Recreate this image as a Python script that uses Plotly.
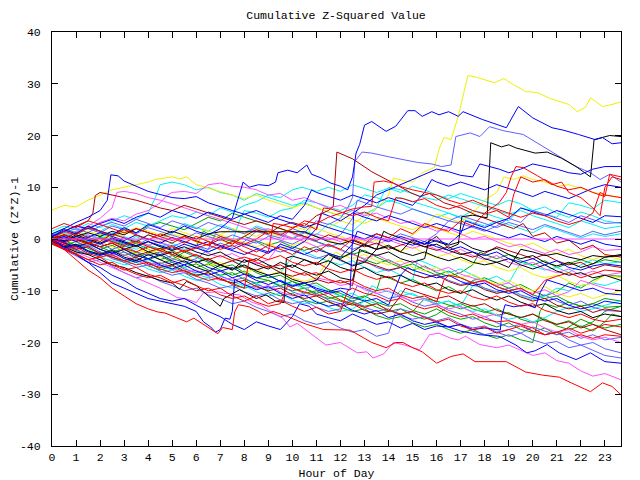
import plotly.graph_objects as go

# ---- colours of the gnuplot-style line palette ----
RED = "#ff0000"
GREEN = "#00a000"
BLUE = "#0000ff"
SLATE = "#6060ff"
MAGENTA = "#ff50ff"
CYAN = "#00f0f0"
YELLOW = "#f0f000"
BLACK = "#000000"
DARKRED = "#b00000"

TITLE = "Cumulative Z-Squared Value"
X_TITLE = "Hour of Day"
Y_TITLE = "Cumulative (Z*Z)-1"
X_TICKS = list(range(0, 24))
Y_TICKS = [-40, -30, -20, -10, 0, 10, 20, 30, 40]

# ---- series: (hour, cumulative value) pairs ----
YELLOW_TOP = [(0,0.5),(0.5,1.5),(1,0.8),(1.5,2),(2,1.2),(2.5,0.5),(3,1.5),(3.5,0.8),(4,0),(4.5,-0.5),(5,1),(5.5,0.3),(6,-0.5),(6.5,0.5),(7,-0.3),(7.5,-1),(8,0.5),(8.5,2),(9,1.2),(9.5,0.5),(10,2.5),(10.5,1.8),(11,3),(11.5,2.2),(12,3.5),(12.5,2.8),(13,4.5),(13.5,6),(13.75,7),(14,8.5),(14.2,11.8),(14.6,11.3),(15,11),(15.4,12.8),(15.9,13.8),(16.1,17.3),(16.3,19.6),(16.6,19.2),(16.9,23.7),(17.3,31.6),(17.7,31.2),(18.1,30.6),(18.4,30.2),(18.8,31),(19.2,29.8),(19.7,28.5),(20.2,28.3),(20.7,27.2),(21.1,26.6),(21.5,26),(21.85,24.6),(22.2,25.5),(22.4,27.3),(22.9,25.6),(23.3,26),(23.67,26.5)]
BLUE_TOP = [(0,0.5),(0.5,1.8),(1,1),(1.5,2.5),(2,1.5),(2.5,0.8),(3,2.2),(3.5,1.2),(4,2.8),(4.5,2),(5,1.2),(5.5,2.5),(6,1.5),(6.5,0.8),(7,2),(7.5,4),(7.8,9),(7.95,11),(8.2,10),(8.6,10.5),(9,10.3),(9.3,11),(9.4,12.8),(9.8,13.3),(10.2,12.8),(10.6,14.3),(10.8,12.5),(11.2,11.8),(11.6,10.8),(12,10.2),(12.3,9.5),(12.5,12),(12.65,16.6),(12.8,18.3),(13,22),(13.3,22.7),(13.9,20.8),(14.3,21.8),(14.8,24.8),(15.1,24.8),(15.4,23.7),(15.8,24.6),(16.1,24),(16.5,24.6),(16.9,23.7),(17.1,24.6),(17.9,23.1),(18.9,21.5),(19.4,25.6),(20,23.4),(20.8,21.5),(21.3,21),(21.9,20.2),(22.6,19.2),(22.9,19.6),(23.3,18.4),(23.67,18.6)]
SLATE_TOP = [(0,0),(0.5,-0.8),(1,0.5),(1.5,-0.3),(2,-1),(2.5,0.2),(3,-0.6),(3.5,-1.3),(4,0),(4.5,-0.8),(5,-1.5),(5.5,-0.5),(6,-1.2),(6.5,-2),(7,-0.8),(7.5,-1.6),(8,-0.5),(8.5,1.5),(9,0.8),(9.5,0.2),(10,2),(10.5,1.2),(11,3.5),(11.5,2.8),(12,4),(12.3,6),(12.5,8),(12.6,15),(12.9,16.8),(13.3,16.6),(14,15.9),(14.7,15.3),(15.2,14.8),(15.8,14.5),(16.2,14),(16.6,14.3),(16.8,19.8),(17.4,20.5),(17.8,19.8),(18.2,21.7),(18.8,20.9),(19.6,20.2),(20.4,18),(21,16.2),(21.8,14),(22.4,12.8),(22.8,11.5),(23.2,12.5),(23.67,11)]
BLACK_TOP = [(0,-0.5),(0.5,-1.5),(1,-1),(1.5,-2.3),(2,-3),(2.5,-2.2),(3,-3.5),(3.5,-4.2),(4,-3),(4.5,-4),(5,-5),(5.5,-4.2),(6,-5.5),(6.5,-6.3),(7,-5),(7.5,-6),(8,-4),(8.5,-5),(9,-5.8),(9.5,-4.5),(10,-5.5),(10.5,-4),(11,-4.8),(11.5,-3),(12,-3.8),(12.5,-2.5),(13,-1),(13.5,-2),(14,-1.2),(14.5,-2.5),(15,0),(15.5,-1),(16,0.5),(16.5,-1.8),(16.9,-1),(17.05,4.3),(17.5,4.6),(18.1,4.1),(18.25,18.6),(18.7,17.8),(19,18.2),(19.3,17.6),(20.1,16.6),(20.6,16.8),(21.2,15.6),(21.8,14),(22.4,12),(22.55,19.2),(22.9,19.6),(23.2,20),(23.67,19.8)]
DARKRED_TOP = [(0,0.8),(0.5,0),(1,1.2),(1.5,0.4),(2,-0.5),(2.5,1),(3,0.2),(3.5,-0.6),(4,0.8),(4.5,0),(5,-0.8),(5.5,0.5),(6,-0.3),(6.5,-1.2),(7,0),(7.5,-1),(8,0.5),(8.5,1.8),(9,1),(9.5,2.5),(10,3.2),(10.5,2.5),(11,4.5),(11.5,5.5),(11.7,6.3),(11.85,16.8),(12.5,15.5),(13.3,13),(14.2,10.8),(14.9,9),(15.3,8.2),(15.7,8.8),(16.3,7),(17,6),(17.7,4.5),(18.5,3.2),(19.2,2),(19.6,3),(20,0.5),(20.5,1.2),(21,-0.8),(21.5,-0.2),(22,-2),(22.5,-1.2),(23,-3),(23.67,-3.5)]
RED_UP = [(0,0),(0.5,1.5),(1,0.8),(1.5,2.2),(2,1.5),(2.5,0.5),(3,1.8),(3.5,0.8),(4,-0.2),(4.5,1),(5,0.2),(5.5,-0.8),(6,0.5),(6.5,-0.5),(7,-1.5),(7.5,-0.5),(8,-1.5),(8.5,-2.5),(9,-1.2),(9.5,-2),(10,-3),(10.5,-1.5),(11,-2.5),(11.5,-1),(12,-2),(12.5,0),(13,-1),(13.5,1),(14,0.2),(14.5,2),(15,1),(15.5,3),(16,2.2),(16.5,1.5),(17,3.5),(17.5,2.5),(18,5),(18.6,7),(18.9,9),(19.1,12),(19.3,14),(19.6,13.8),(20.2,12.2),(20.8,10.5),(21.2,11),(21.5,9),(22,8),(22.5,6),(22.8,4.5),(23,10),(23.3,12),(23.67,11.5)]
RED_LOW = [(0,0),(0.5,-2),(1,-4),(1.5,-6),(2,-7.5),(2.5,-9.5),(3,-11),(3.5,-12.5),(4,-13.5),(4.4,-14.1),(4.7,-14.3),(5.1,-15),(5.6,-16),(5.9,-15.3),(6.6,-17.5),(6.9,-18.3),(7.1,-17.1),(7.5,-17.5),(7.6,-14.1),(7.75,-12.7),(8.2,-13.1),(8.6,-14),(8.8,-14.7),(9.2,-14),(9.8,-15),(10.6,-16.5),(11.3,-17.5),(12.4,-17.6),(13.3,-20),(13.9,-21),(14.3,-20),(14.6,-20),(15,-21),(15.4,-21.8),(16,-24),(16.6,-22.7),(17.1,-22.2),(17.6,-23.7),(18.9,-23.7),(19.7,-25.7),(20.4,-26.3),(21.1,-26.7),(21.6,-27.8),(22.4,-29.5),(22.9,-27.8),(23.3,-28.5),(23.67,-30.1)]
MAGENTA_LOW = [(0,0),(0.5,-1),(1,-2.5),(1.5,-3.5),(2,-4.5),(2.5,-5.5),(3,-6.5),(3.5,-7.5),(4,-8.5),(4.5,-9.5),(5.2,-11.3),(5.6,-11.6),(6,-12.3),(6.3,-10.4),(6.9,-10.2),(7.2,-10.5),(7.8,-10.8),(8.3,-12.2),(8.7,-12.8),(9.1,-14),(9.6,-15.3),(9.9,-17),(10.2,-16.3),(10.7,-18),(11.4,-20.5),(12,-20),(12.7,-22),(13.1,-21.8),(13.35,-23),(13.8,-22.2),(14.2,-20),(14.6,-20.4),(15.3,-21.4),(15.7,-18.5),(16.1,-18.2),(16.6,-19.2),(16.9,-19.5),(17.2,-18.8),(17.8,-20.4),(18.5,-21),(19,-20.5),(19.5,-21.5),(20,-22.5),(20.5,-22),(21,-23.5),(21.5,-24),(22,-25.5),(22.5,-26.5),(23,-26),(23.67,-27.2)]
BLUE_LOW = [(0,0),(0.5,-1.8),(1,-3),(1.5,-4.5),(2,-5.5),(2.5,-7),(3,-8),(3.5,-9.5),(4,-10.5),(4.5,-11.5),(5,-12),(5.5,-11.5),(6,-12.8),(6.5,-14),(7,-15),(7.5,-16.5),(8,-17.5),(8.5,-16),(9,-16.8),(9.5,-17.5),(10,-15),(10.3,-12.5),(10.7,-13),(11,-14.5),(11.5,-15.2),(12,-15.8),(12.5,-14.5),(13,-15.5),(13.5,-16.5),(14,-16),(14.5,-17.2),(15,-16.3),(15.5,-17.5),(16,-16.8),(16.5,-17),(17,-17.8),(17.5,-18.2),(17.8,-18.5),(18.6,-18.8),(19.3,-20.5),(19.75,-22),(20.1,-21.6),(20.6,-20.4),(21.1,-22),(21.8,-23.3),(22.4,-22),(23,-23.7),(23.67,-24)]
BLUE_JUMP = [(0,0),(0.5,-1.5),(1,-3),(1.5,-4.5),(2,-6.5),(2.5,-8.5),(3,-9.5),(3.5,-10.5),(4,-11.5),(4.5,-12),(5,-12.5),(5.5,-13),(6,-14),(6.3,-16),(6.6,-17),(6.8,-18),(7,-17.5),(7.2,-15.3),(7.4,-15.5),(7.5,-14),(7.6,-7.8),(8,-8.8),(8.5,-9.8),(9,-9.2),(9.5,-10.5),(10,-11.5),(10.5,-10.8),(11,-12.2),(11.5,-13),(12,-12.5),(12.5,-13.8),(13,-14.5),(13.5,-13.8),(14,-15.2),(14.5,-14.5),(15,-15.8),(15.5,-16.5),(16,-16),(16.5,-17),(17,-16.5),(17.5,-17.5),(18,-17.2),(18.65,-17.6),(18.7,-15),(18.85,-12.7),(19.2,-13.1),(19.75,-12.7),(20.1,-13.3),(20.3,-10.4),(20.6,-7.9),(21,-8.5),(21.5,-9.2),(22,-10),(22.5,-9.5),(23,-10.5),(23.67,-10.8)]
RED_MID_LOW = [(0,-0.5),(0.5,-2),(1,-2.8),(1.5,-4),(2,-3.5),(2.5,-5),(3,-6),(3.5,-5.5),(4,-6.8),(4.5,-7.5),(5,-8.5),(5.5,-7.8),(6,-9),(6.5,-10),(7,-9.5),(7.5,-11),(8,-12),(8.5,-11),(9,-12.5),(9.5,-11.8),(10,-13),(10.5,-14),(11,-13.2),(11.5,-14.5),(12,-14),(12.3,-10),(12.5,-9.5),(13,-10.5),(13.5,-11),(14,-12),(14.5,-11.5),(15,-12.8),(15.5,-13.5),(16,-13),(16.5,-14.2),(17,-15),(17.5,-14.5),(18,-15.5),(18.5,-16),(19,-15.8),(19.5,-16.5),(20,-17.2),(20.5,-18.5),(21,-18),(21.5,-17.2),(22,-18.2),(22.5,-17.5),(23,-16.5),(23.67,-17)]
MAGENTA_ZERO = [(0,0),(23.67,0)]
GREEN_1 = [(0,0.5),(0.5,-0.5),(1,0.3),(1.5,-1),(2,-2),(2.5,-1.2),(3,-2.5),(3.5,-3.5),(4,-2.8),(4.5,-4),(5,-3.2),(5.5,-4.5),(6,-5.5),(6.5,-4.8),(7,-6),(7.5,-7),(8,-6.2),(8.5,-7.5),(9,-8),(9.5,-9),(10,-8.2),(10.5,-9.5),(11,-10.5),(11.5,-9.8),(12,-11),(12.5,-12),(13,-11.2),(13.5,-10),(13.7,-7),(14,-7.5),(14.5,-8.5),(15,-7.8),(15.5,-9),(16,-10),(16.5,-9.2),(17,-10.5),(17.5,-8),(18,-7.5),(18.5,-8.5),(19,-9.5),(19.5,-8.8),(20,-10),(20.5,-11),(21,-10.2),(21.5,-8.5),(22,-9.5),(22.5,-8),(23,-7),(23.67,-7.2)]
GREEN_2 = [(0,-0.3),(0.5,-1.2),(1,-0.5),(1.5,-1.8),(2,-2.8),(2.5,-2),(3,-3.2),(3.5,-2.5),(4,-3.8),(4.5,-4.8),(5,-4),(5.5,-2.5),(6,-3.5),(6.5,-4.5),(7,-5.5),(7.5,-5),(8,-6.5),(8.5,-7.5),(9,-7),(9.5,-8.2),(10,-9.5),(10.5,-10.5),(11,-10),(11.5,-11.2),(12,-12),(12.5,-12.8),(13,-12),(13.5,-13.2),(14,-14),(14.5,-13.5),(15,-14.8),(15.5,-15.5),(16,-14.6),(16.5,-13),(17,-12.5),(17.5,-13.5),(18,-14.2),(18.5,-13.5),(19,-14.5),(19.5,-15.2),(20,-14.5),(20.5,-15.5),(21,-16.5),(21.5,-15.8),(22,-17),(22.5,-16),(23,-14),(23.67,-13)]
GREEN_3 = [(0,0),(0.5,0.8),(1,0),(1.5,-0.8),(2,0.3),(2.5,-0.5),(3,-1.5),(3.5,-0.8),(4,-2),(4.5,-3),(5,-2.2),(5.5,-3.5),(6,-4.5),(6.5,-3.8),(7,-5),(7.5,-6),(8,-5.2),(8.5,-6.5),(9,-7.5),(9.5,-7),(10,-8.2),(10.5,-9),(11,-8.5),(11.5,-9.8),(12,-10.5),(12.5,-11.5),(13,-11),(13.5,-12.2),(14,-13),(14.5,-12.5),(15,-13.8),(15.5,-14.5),(16,-13.5),(16.5,-14.8),(17,-15.5),(17.5,-15),(18,-16.2),(18.5,-17),(19,-16.2),(19.5,-17.5),(20,-18),(20.5,-17.2),(21,-18.5),(21.5,-17),(22,-15.5),(22.5,-16.5),(23,-17.2),(23.67,-16.5)]
GREEN_4 = [(0,0.5),(0.5,-0.3),(1,-1.2),(1.5,-0.5),(2,-1.5),(2.5,-2.5),(3,-1.8),(3.5,-3),(4,-4),(4.5,-3.2),(5,-4.5),(5.5,-5.5),(6,-4.8),(6.5,-6),(7,-7),(7.5,-6.5),(8,-7.8),(8.5,-8.5),(9,-8),(9.5,-9.2),(10,-10),(10.5,-9.5),(11,-10.8),(11.5,-11.5),(12,-11),(12.5,-12.2),(13,-13),(13.5,-12.5),(14,-13.8),(14.5,-14.5),(15,-14),(15.5,-11.5),(16,-12),(16.5,-12.8),(17,-13.5),(17.5,-12.8),(18,-14),(18.5,-14.8),(19,-14.2),(19.5,-15.5),(20,-16.2),(20.5,-15.5),(21,-16.8),(21.5,-17.5),(22,-16.8),(22.5,-17.8),(23,-16),(23.3,-14.5),(23.67,-15)]
GREEN_5 = [(0,1),(0.5,2),(1,1.2),(1.5,2.5),(2,1.5),(2.5,0.8),(3,2),(3.5,1.2),(4,2.5),(4.5,3.2),(5,2.5),(5.5,1.8),(6,3),(6.5,4.2),(7,3.5),(7.5,5),(8,4.2),(8.5,3.5),(9,2.8),(9.5,2),(10,1.2),(10.5,0.5),(11,-0.5),(11.5,-1.2),(12,-2),(12.5,-3),(13,-2.2),(13.5,-3.5),(14,-4.5),(14.5,-5.5),(15,-4.8),(15.5,-6),(16,-7),(16.5,-6.2),(17,-7.5),(17.5,-8.5),(18,-8),(18.5,-9.2),(19,-10),(19.5,-9.5),(20,-10.8),(20.5,-11.5),(21,-11),(21.5,-12.2),(22,-13),(22.5,-12.5),(23,-11.5),(23.67,-12)]
GREEN_6 = [(0,-0.5),(0.5,-1.5),(1,-2.2),(1.5,-3),(2,-2.5),(2.5,-3.5),(3,-4.5),(3.5,-4),(4,-5.2),(4.5,-6),(5,-5.2),(5.5,-6.5),(6,-7.2),(6.5,-6.5),(7,-7.8),(7.5,-8.5),(8,-9.5),(8.5,-9),(9,-10.2),(9.5,-11),(10,-10.5),(10.5,-11.8),(11,-12.5),(11.5,-12),(12,-13.2),(12.5,-14),(13,-13.5),(13.5,-14.8),(14,-15.5),(14.5,-15),(15,-16.2),(15.5,-17),(16,-16.5),(16.5,-17.5),(17,-18.2),(17.5,-17.5),(18,-18.5),(18.5,-19.2),(19,-18.5),(19.5,-19.5),(20,-20),(20.3,-14),(20.5,-12.5),(21,-13.2),(21.5,-12.2),(22,-13),(22.5,-12.5),(23,-13.2),(23.67,-13)]
GREEN_7 = [(0,0.2),(0.5,1),(1,0.2),(1.5,-0.5),(2,0.5),(2.5,-0.2),(3,-1),(3.5,-0.2),(4,-1.2),(4.5,-2),(5,-1.2),(5.5,-2.5),(6,-1.5),(6.3,1.5),(6.5,1),(7,0.2),(7.5,-0.5),(8,0.5),(8.5,-0.3),(9,-1.2),(9.5,-0.5),(10,-1.5),(10.5,-2.2),(11,-1.5),(11.5,-2.8),(12,-3.5),(12.5,-2.8),(13,-4),(13.5,-4.8),(14,-4),(14.5,-5.2),(15,-6),(15.5,-5.2),(16,-6.5),(16.5,-7.2),(17,-6.5),(17.5,-5),(17.8,-2.5),(18,-3),(18.5,-3.8),(19,-3),(19.5,-4.2),(20,-5),(20.5,-4.2),(21,-5.5),(21.5,-4.8),(22,-4),(22.5,-4.8),(23,-4),(23.67,-4.5)]
CYAN_1 = [(0,1.5),(0.5,2.5),(1,1.8),(1.5,3),(2,2.2),(2.5,3.5),(3,4.5),(3.5,3.8),(4,5),(4.3,8),(4.5,10.5),(5,11),(5.5,10.5),(6,9.5),(6.5,10),(7,9),(7.5,8.5),(8,7.5),(8.5,8.8),(9,8),(9.5,7.2),(10,6.5),(10.5,7),(11,6),(11.5,5.2),(12,4.5),(12.5,5.5),(13,4.8),(13.5,6),(14,7.5),(14.5,6.8),(15,5.8),(15.5,5),(16,4.2),(16.5,5),(17,4),(17.5,3.2),(18,2.5),(18.5,3.5),(19,2.8),(19.5,2),(20,1.2),(20.5,2.5),(21,1.8),(21.5,1),(22,0.2),(22.5,1),(23,0.5),(23.67,1)]
CYAN_2 = [(0,0),(0.5,-0.8),(1,0.5),(1.5,-0.3),(2,1),(2.5,0.2),(3,-0.8),(3.5,0.5),(4,-0.5),(4.5,-1.5),(5,-0.8),(5.5,-2),(6,-1.2),(6.5,-2.5),(7,-1.5),(7.5,-0.5),(7.8,3.5),(8,5.5),(8.5,5),(9,4.2),(9.5,5.5),(10,6),(10.5,7.5),(11,7),(11.5,6.2),(12,5.5),(12.5,6.5),(13,8.5),(13.5,8),(14,7.2),(14.5,8),(15,7.2),(15.5,6.5),(16,5.8),(16.5,5),(17,4.2),(17.5,5.5),(18,5),(18.5,4.2),(19,3.5),(19.5,6),(20,5.5),(20.5,4.8),(21,4.2),(21.5,7),(22,6.5),(22.5,5.8),(23,7.5),(23.67,7)]
CYAN_3 = [(0,0.5),(0.5,1.2),(1,0.3),(1.5,-0.5),(2,0.5),(2.5,-0.3),(3,-1.2),(3.5,-2),(4,-1.2),(4.5,-2.2),(5,-3),(5.5,-2.3),(6,-3.5),(6.5,-4.2),(7,-5),(7.5,-4.2),(8,-5.2),(8.5,-6),(9,-5.2),(9.5,-6.5),(10,-3.5),(10.3,-2),(10.5,-2.5),(11,-3.5),(11.5,-4.2),(12,-5),(12.5,-4.2),(13,-5.5),(13.5,-6.5),(14,-5.8),(14.5,-7),(15,-8),(15.2,-4),(15.5,-4.5),(16,-5.5),(16.5,-6.5),(17,-5.8),(17.5,-7),(18,-8),(18.5,-7.2),(19,-8.5),(19.5,-4.5),(20,-5.2),(20.5,-6),(21,-5.5),(21.5,-6.5),(22,-5),(22.5,-4),(23,-4.8),(23.67,-4.4)]
CYAN_4 = [(0,-0.5),(0.5,-1.5),(1,-1),(1.5,-2.2),(2,-3),(2.5,-2.5),(3,-3.8),(3.5,-4.5),(4,-4),(4.5,-5.2),(5,-6),(5.5,-5.5),(6,-6.8),(6.5,-7.5),(7,-7),(7.5,-8.2),(8,-9),(8.5,-8.5),(9,-9.8),(9.5,-8),(10,-8.8),(10.5,-9.5),(11,-9),(11.5,-10.2),(12,-11),(12.5,-10.5),(13,-11.8),(13.5,-12.5),(14,-12),(14.5,-10),(15,-10.8),(15.5,-11.5),(16,-12.5),(16.5,-12),(17,-13),(17.5,-9),(18,-9.5),(18.5,-10.5),(19,-10),(19.5,-11),(20,-11.8),(20.5,-11),(21,-9.5),(21.5,-10),(22,-9),(22.5,-8.5),(23,-9),(23.67,-8)]
CYAN_5 = [(0,1),(0.5,0.3),(1,1.5),(1.5,0.8),(2,0),(2.5,1.2),(3,0.5),(3.5,-0.3),(4,0.8),(4.5,0),(5,1.2),(5.5,3),(6,2.2),(6.5,1.5),(7,2.8),(7.5,2),(8,1.2),(8.5,2.5),(9,1.8),(9.5,1),(10,0.2),(10.5,1.5),(11,0.8),(11.5,3),(12,2.2),(12.5,1.5),(13,3.5),(13.5,6),(13.8,9),(14,10),(14.5,9.5),(15,8.8),(15.5,8),(16,7.5),(16.5,8.5),(17,7.8),(17.5,7),(18,6.2),(18.5,5.5),(19,4.8),(19.5,5.5),(20,4.5),(20.5,3.8),(21,3),(21.5,2.2),(22,3.5),(22.5,2.8),(23,2),(23.67,2.5)]
CYAN_6 = [(0,0.8),(0.5,1.8),(1,1),(1.5,2.2),(2,1.5),(2.5,2.8),(3,2),(3.5,3.2),(4,2.5),(4.5,3.5),(5,4.5),(5.5,4),(6,5.2),(6.5,4.5),(7,6),(7.5,5.2),(8,6.5),(8.5,7.2),(9,8.5),(9.5,8),(10,9.5),(10.4,10),(11,9.2),(11.5,10),(12,9.2),(12.5,10.5),(13,9.8),(13.5,9),(14,9.8),(14.5,9),(15,10.2),(15.5,9.5),(16,8.5),(16.5,7.8),(17,8.8),(17.5,8),(18,7.2),(18.5,6.5),(19,7.5),(19.5,6.8),(20,5.5),(20.5,6.2),(21,5),(21.5,4.2),(22,5.2),(22.5,4.5),(23,3.5),(23.67,3)]
CYAN_7 = [(0,-1),(0.5,-2),(1,-2.8),(1.5,-2.2),(2,-3.5),(2.5,-4.2),(3,-5),(3.5,-4.5),(4,-5.8),(4.5,-6.5),(5,-6),(5.5,-7.2),(6,-8),(6.5,-7.5),(7,-8.8),(7.5,-9.5),(8,-9),(8.5,-10.2),(9,-11),(9.5,-10.5),(10,-11.8),(10.5,-12.5),(11,-12),(11.5,-13.2),(12,-14),(12.5,-13.5),(13,-12),(13.3,-9),(13.5,-9.5),(14,-10.2),(14.5,-11),(15,-10.5),(15.5,-11.8),(16,-12.5),(16.5,-12),(17,-13.2),(17.5,-14),(18,-13.5),(18.5,-14.8),(19,-15.5),(19.5,-15),(20,-16),(20.5,-15.2),(21,-14),(21.5,-13.2),(22,-14),(22.5,-13.5),(23,-12.8),(23.67,-12)]
MAGENTA_1 = [(0,0.5),(0.5,1.5),(1,2.5),(1.5,2),(2,3.2),(2.5,4),(3,3.5),(3.5,4.8),(4,5.5),(4.5,7),(4.8,8.5),(5,9),(5.5,9.2),(6,8.8),(6.5,10.5),(7,10.8),(7.5,10.2),(8,10),(8.5,9.5),(9,8.5),(9.5,8.8),(10,7.5),(10.5,8),(11,7),(11.5,6),(12,6.5),(12.5,5.5),(13,4.5),(13.5,5),(14,4),(14.5,3),(15,3.5),(15.5,2.5),(16,1.5),(16.5,2),(17,1),(17.5,0),(18,0.5),(18.5,-0.5),(19,-1.5),(19.5,-1),(20,-2),(20.5,-2.8),(21,-2),(21.5,-3),(22,-2.5),(22.5,-1.5),(23,-2.2),(23.67,-2)]
MAGENTA_2 = [(0,0),(0.5,0.8),(1,1.5),(1.5,2.5),(2,4),(2.5,6),(2.7,9),(3,9.2),(3.5,8.8),(4,8),(4.5,7.5),(5,6.8),(5.5,6),(6,5.2),(6.5,4.5),(7,3.8),(7.5,3),(8,2.2),(8.5,1.5),(9,2),(9.5,1),(10,0.2),(10.5,-0.5),(11,-1.5),(11.5,-1),(12,-2.2),(12.5,-3),(13,-3.8),(13.5,-3),(14,-4.2),(14.5,-5),(15,-4.2),(15.5,-5.5),(16,-6.2),(16.5,-5.5),(17,-6.8),(17.5,-7.5),(18,-8.2),(18.5,-9),(19,-8.5),(19.5,-9.8),(20,-10.5),(20.5,-9.8),(21,-11),(21.5,-10.2),(22,-8),(22.5,-8.8),(23,-9.5),(23.67,-10)]
MAGENTA_3 = [(0,-0.5),(0.5,-1.2),(1,-2),(1.5,-1.5),(2,-2.8),(2.5,-3.5),(3,-3),(3.5,-4.2),(4,-5),(4.5,-4.5),(5,-5.8),(5.5,-6.5),(6,-6),(6.5,-7.2),(7,-8),(7.5,-7.5),(8,-8.8),(8.5,-9.5),(9,-9),(9.5,-10.2),(10,-11),(10.5,-10.5),(11,-7.5),(11.5,-8),(12,-9),(12.5,-8.5),(13,-9.8),(13.5,-10.5),(14,-10),(14.5,-11.2),(15,-12),(15.5,-11.5),(16,-12.8),(16.5,-13.5),(17,-13),(17.5,-14.2),(18,-15),(18.5,-14.5),(19,-15.8),(19.5,-16.5),(20,-16),(20.5,-17.2),(21,-18),(21.5,-17.5),(22,-18.8),(22.5,-19.5),(23,-19),(23.67,-20)]
MAGENTA_4 = [(0,-0.2),(0.5,0.5),(1,-0.3),(1.5,0.8),(2,0),(2.5,-0.8),(3,0.3),(3.5,-0.5),(4,-1.2),(4.5,-0.5),(5,-1.5),(5.5,-2.2),(6,-1.5),(6.5,-2.8),(7,-3.5),(7.5,-2.8),(8,-4),(8.5,-4.8),(9,-4),(9.5,-1),(9.8,1.5),(10,1),(10.5,0.2),(11,1),(11.5,0.2),(12,-0.5),(12.5,0.5),(13,-0.3),(13.5,-1),(14,-0.2),(14.5,-1),(15,-1.8),(15.5,-1),(16,-2),(16.5,-2.8),(17,-2),(17.5,-3.2),(18,-4),(18.5,-3.2),(19,-4.5),(19.5,-5.2),(20,-4.5),(20.5,-5.8),(21,-6.5),(21.5,-5.8),(22,-7),(22.5,-6.2),(23,-7),(23.67,-6.5)]
BLACK_2 = [(0,0.3),(0.5,-0.5),(1,0.5),(1.5,1.2),(2,0.5),(2.5,1.5),(3,0.8),(3.5,2),(4,1.2),(4.5,0.5),(5,1.5),(5.5,0.8),(6,0),(6.5,1),(7,1.4),(10.5,1.4),(11,0.5),(11.5,-0.5),(12,-1),(12.5,-0.2),(13,-1.2),(13.5,-2),(14,-1.5),(14.5,-2.5),(15,-3.2),(15.5,-2.5),(16,-3.5),(16.5,-4.2),(17,-3.5),(17.5,-4.5),(18,-5),(18.5,-4.5),(19,-5.5),(19.5,-2),(20,-2.5),(20.5,-3.2),(21,-2.8),(21.5,-3.5),(22,-4),(22.5,-3.2),(23,-3.5),(23.67,-3)]
BLACK_3 = [(0,-0.5),(0.5,-1.5),(1,-2.5),(1.5,-3),(2,-4),(2.5,-5),(3,-5.5),(3.5,-6.5),(4,-7.2),(4.5,-8),(5,-8.5),(5.3,-9.7),(5.6,-8.2),(6,-9),(6.5,-11),(7,-13),(7.15,-11.5),(7.5,-10.5),(7.8,-9.8),(8.5,-11.5),(8.9,-10.8),(9.3,-12),(9.65,-12.3),(9.75,-3.7),(10,-3.3),(10.5,-4),(11,-5),(11.5,-4.2),(12,-5.5),(12.5,-6.2),(13,-5.5),(13.5,-6.8),(14,-7.5),(14.5,-7),(15,-8.2),(15.5,-9),(16,-8.5),(16.5,-9.8),(17,-10.5),(17.5,-9.8),(18,-11),(18.5,-11.8),(19,-11),(19.5,-12.2),(20,-13),(20.5,-12.5),(21,-13.8),(21.5,-14.5),(22,-14),(22.5,-15.2),(23,-14.5),(23.67,-15)]
BLACK_4 = [(0,0),(0.5,0.8),(1,0),(1.5,-0.8),(2,-1.5),(2.5,-0.8),(3,-2),(3.5,-1.2),(4,-2.5),(4.5,-3.2),(5,-2.5),(5.5,-3.8),(6,-4.5),(6.5,-3.8),(7,-5),(7.5,-5.8),(8,-5),(8.5,-6.2),(9,-7),(9.5,-6.5),(10,-7.8),(10.5,-8.5),(11,-8),(11.5,-5),(11.7,-3.5),(12,-4),(12.5,-5.2),(13,-4.5),(13.5,-2),(13.8,1.5),(14,1),(14.5,0.2),(15,-0.8),(15.5,-1.5),(16,-1),(16.5,-2.2),(17,-3),(17.5,-2.5),(18,-3.8),(18.5,-4.5),(19,-3.8),(19.5,-5),(20,-5.8),(20.5,-5),(21,-6.2),(21.5,-7),(22,-6.5),(22.5,-7.5),(23,-7),(23.67,-8)]
BLACK_5 = [(0,0.5),(0.5,-0.3),(1,0.8),(1.5,0),(2,-0.8),(2.5,0.2),(3,-0.5),(3.5,-1.3),(4,-0.5),(4.5,-1.5),(5,-2.2),(5.5,-1.5),(6,-2.5),(6.5,-3.2),(7,-2.5),(7.5,-3.8),(8,-4.5),(8.5,-3.8),(9,-5),(9.5,-5.8),(10,-5),(10.5,-6.2),(11,-7),(11.5,-6.2),(12,-7.5),(12.5,-8),(12.8,-2),(13,-2.5),(13.5,-3.2),(14,-2.5),(14.5,-3.8),(15,-4.5),(15.5,-3.8),(15.7,0),(16,-0.5),(16.5,-1.2),(17,-0.5),(17.5,-1.8),(18,-2.5),(18.5,-1.8),(19,-3),(19.5,-3.8),(20,-3.2),(20.5,-4.5),(21,-5.2),(21.5,-4.5),(22,-5.5),(22.5,-4.8),(23,-3.5),(23.67,-3.2)]
YELLOW_2 = [(0,5.6),(0.5,6.5),(1,6.2),(1.5,7.5),(2,8.5),(2.5,9.5),(3,10),(3.5,10.5),(4,11),(4.3,11.5),(4.8,11.8),(5,12),(5.3,11.6),(5.6,12),(6,10.5),(6.5,9.8),(7,9.2),(7.5,8.5),(8,7.8),(8.5,8.5),(9,7.5),(9.5,6.8),(10,6),(10.5,6.8),(11,6),(11.5,5.2),(12,4.5),(12.5,3.8),(13,3),(13.5,4),(14,3.2),(14.5,2.5),(15,1.8),(15.5,2.8),(16,2),(16.5,1.2),(17,0.5),(17.5,1.5),(18,0.8),(18.5,0),(19,-0.8),(19.5,-1.5),(20,-0.8),(20.5,-2),(21,-2.8),(21.5,-2),(22,-3.2),(22.5,-4),(23,-3.2),(23.67,-4)]
YELLOW_3 = [(0,0.3),(0.5,1),(1,0.2),(1.5,1.5),(2,0.8),(2.5,0),(3,1),(3.5,2.2),(4,1.5),(4.5,0.8),(5,2),(5.5,1.2),(6,0.5),(6.5,-0.3),(7,0.8),(7.5,0),(8,-0.8),(8.5,-1.5),(9,-0.8),(9.5,-2),(10,-1.2),(10.5,-0.5),(10.8,2.5),(11,2),(11.5,1.2),(12,0.5),(12.5,-0.3),(13,-1),(13.5,-0.2),(14,-1.5),(14.5,-2.2),(15,-1.5),(15.5,-2.8),(16,-3.5),(16.5,-2.8),(17,-4),(17.5,-4.8),(18,-4.2),(18.5,-5.5),(19,-6.2),(19.5,-5.5),(20,-6.8),(20.5,-7.5),(21,-7),(21.5,-8.2),(22,-9),(22.5,-8.5),(23,-7),(23.67,-7.5)]
YELLOW_4 = [(0,-0.5),(0.5,0.3),(1,-0.5),(1.5,-1.2),(2,-0.5),(2.5,-1.5),(3,-2.2),(3.5,-1.5),(4,-2.8),(4.5,-2),(5,-3),(5.5,-2.2),(6,-1),(6.3,2),(6.5,1.5),(7,0.8),(7.5,2),(8,1.2),(8.5,0.5),(9,1.8),(9.5,1),(10,0.2),(10.5,-0.5),(11,0.5),(11.5,-0.2),(12,-1),(12.5,0.2),(13,-0.5),(13.5,1),(14,0.3),(14.5,-0.5),(15,0.8),(15.5,2.5),(16,4.8),(16.5,4),(17,3.2),(17.5,5),(18,7.5),(18.5,9),(18.8,12),(19.2,11.5),(19.6,12.2),(20,11.5),(20.5,11),(21,10.2),(21.5,10.5),(22,9.8),(22.5,9),(23,8.5),(23.67,8)]
YELLOW_5 = [(0,0),(0.5,-0.8),(1,0),(1.5,-0.8),(2,-1.5),(2.5,-0.8),(3,-2),(3.5,-2.8),(4,-2),(4.5,-3.2),(5,-4),(5.5,-3.2),(6,-4.5),(6.5,-5.2),(7,-4.5),(7.5,-5.8),(8,-6.5),(8.5,-5.8),(9,-7),(9.5,-6.2),(10,-7.5),(10.5,-8.2),(11,-7.5),(11.5,-4),(11.8,-2.5),(12,-3),(12.5,-3.8),(13,-3),(13.5,-4.2),(14,-5),(14.5,-4.2),(15,-5.5),(15.5,-6.2),(16,-5.5),(16.5,-6.8),(17,-7.5),(17.5,-6.8),(18,-8),(18.5,-8.8),(19,-8),(19.5,-9.2),(20,-10),(20.5,-9.2),(21,-10.5),(21.5,-11.2),(22,-10.5),(22.5,-11.5),(23,-10.8),(23.67,-10)]
SLATE_2 = [(0,0),(0.5,-1.2),(1,-2),(1.5,-3),(2,-2.5),(2.5,-3.8),(3,-4.5),(3.5,-5.5),(4,-5),(4.5,-6.2),(5,-7),(5.5,-6.5),(6,-7.8),(6.5,-8.5),(7,-9.5),(7.5,-9),(8,-10.2),(8.5,-11),(9,-10.5),(9.5,-11.8),(10,-12.5),(10.5,-12),(11,-13.2),(11.5,-14),(12,-13.5),(12.5,-11),(12.7,-9),(13,-9.5),(13.5,-10.5),(14,-11.5),(14.5,-11),(15,-12.2),(15.5,-13),(16,-12.5),(16.5,-13.8),(17,-14.5),(17.5,-15.5),(18,-15),(18.5,-16.2),(19,-17),(19.5,-16.5),(20,-17.8),(20.5,-18.5),(21,-18),(21.5,-19.5),(22,-20.5),(22.5,-20),(23,-21.2),(23.67,-22)]
SLATE_3 = [(0,1),(0.5,0.2),(1,1.2),(1.5,2),(2,1.2),(2.5,2.5),(3,1.8),(3.5,1),(4,2.2),(4.5,1.5),(5,0.8),(5.5,0),(6,1.2),(6.5,0.5),(7,-0.3),(7.5,0.8),(8,0),(8.5,-0.8),(9,0.5),(9.5,-0.2),(10,-1),(10.5,0.2),(11,-0.5),(11.5,-1.5),(12,-0.8),(12.5,-2),(13,-1.2),(13.5,0.5),(14,-0.2),(14.5,1),(15,0.2),(15.5,-0.5),(16,1),(16.5,3.5),(17,3),(17.5,2.2),(18,1.5),(18.5,2.5),(19,4),(19.5,3.2),(20,5.5),(20.5,4.8),(21,4),(21.5,3.2),(22,4.5),(22.5,3.8),(23,3),(23.67,3.2)]
SLATE_4 = [(0,-0.3),(0.5,-1),(1,-1.8),(1.5,-1.2),(2,-2.5),(2.5,-3.2),(3,-2.5),(3.5,-3.8),(4,-4.5),(4.5,-5.2),(5,-4.5),(5.5,-5.8),(6,-6.5),(6.5,-6),(7,-7.2),(7.5,-8),(8,-7.5),(8.5,-8.8),(9,-9.5),(9.5,-9),(10,-10.2),(10.5,-11),(11,-10.5),(11.5,-11.8),(12,-12.5),(12.5,-12),(13,-13.2),(13.5,-14),(14,-13.5),(14.5,-14.8),(15,-15.5),(15.5,-15),(16,-16.2),(16.5,-17),(17,-16.5),(17.5,-17.8),(18,-18.5),(18.5,-18),(19,-17.5),(19.5,-18.2),(20,-17),(20.5,-17.8),(21,-18.5),(21.5,-18),(22,-19.2),(22.5,-18.5),(23,-19.5),(23.67,-19)]
SLATE_5 = [(0,0.5),(0.5,1.2),(1,2),(1.5,1.2),(2,2.5),(2.5,3.2),(3,2.5),(3.5,3.8),(4,3),(4.5,2.2),(5,3.5),(5.5,2.8),(6,2),(6.5,3.2),(7,2.5),(7.5,1.8),(8,1),(8.5,2.2),(9,1.5),(9.5,0.8),(10,0),(10.5,1.2),(11,0.5),(11.5,-0.2),(12,0.8),(12.5,4),(12.7,7.5),(13,7),(13.5,6.2),(14,5.5),(14.5,4.8),(15,5.8),(15.5,5),(16,4.2),(16.5,3.5),(17,4.5),(17.5,3.8),(18,3),(18.5,2.2),(19,3.2),(19.5,2.5),(20,1.8),(20.5,2.8),(21,2),(21.5,1.2),(22,0.5),(22.5,1.5),(23,0.8),(23.67,1.5)]
SLATE_6 = [(0,-0.5),(0.5,0.3),(1,-0.5),(1.5,-1.5),(2,-0.8),(2.5,-2),(3,-1.2),(3.5,-2.5),(4,-3.2),(4.5,-2.5),(5,-3.8),(5.5,-4.5),(6,-3.8),(6.5,-2),(6.8,1),(7,0.5),(7.5,-0.3),(8,-1.2),(8.5,-0.5),(9,-1.8),(9.5,-2.5),(10,-1.8),(10.5,-3),(11,-3.8),(11.5,-3),(12,-4.2),(12.5,-5),(13,-4.2),(13.5,-5.5),(14,-6.2),(14.5,-5.5),(15,-6.8),(15.5,-7.5),(16,-6.8),(16.5,-8),(17,-8.8),(17.5,-8.2),(18,-9.5),(18.5,-10.2),(19,-9.5),(19.5,-10.8),(20,-11.5),(20.5,-10.8),(21,-12),(21.5,-12.8),(22,-12),(22.5,-13.2),(23,-13.8),(23.67,-14)]
SLATE_7 = [(0,-0.8),(0.5,-2),(1,-3.2),(1.5,-4.5),(2,-4),(2.5,-5.2),(3,-6.5),(3.5,-7.5),(4,-7),(4.5,-8.2),(5,-9),(5.5,-10),(6,-9.5),(6.5,-10.8),(7,-11.5),(7.5,-12.5),(8,-12),(8.5,-13.2),(9,-14),(9.5,-15),(10,-14.5),(10.5,-15.8),(11,-16.5),(11.5,-16),(12,-17.2),(12.5,-18),(13,-17.5),(13.5,-18.8),(14,-18.2),(14.3,-14),(14.5,-13.5),(15,-14.2),(15.5,-15),(16,-15.8),(16.5,-15.2),(17,-16.5),(17.5,-17.2),(18,-16.8),(18.5,-18),(19,-18.8),(19.5,-18.2),(20,-19.5),(20.5,-20.2),(21,-19.8),(21.5,-21),(22,-20.5),(22.5,-21.5),(23,-22.5),(23.67,-23)]
BLUE_PEAK = [(0,1),(0.5,2),(1,3.2),(1.5,4.2),(2,5.5),(2.3,7.5),(2.45,12.4),(2.75,12.2),(3,11.2),(3.5,10.2),(4,9.2),(4.5,8.6),(5,8),(5.5,7.8),(6,8.2),(6.5,7),(7,6.2),(7.5,5.5),(8,4.8),(8.5,5.5),(9,4.5),(9.5,3.8),(10,3),(10.5,2.2),(11,3),(11.5,2.2),(12,1.5),(12.5,0.8),(13,0),(13.5,1),(14,0.2),(14.5,-0.5),(15,-1.2),(15.5,-0.5),(16,-1.5),(16.5,-2.2),(17,-1.5),(17.5,-2.5),(18,-3.2),(18.5,-2.5),(19,-3.8),(19.5,-4.5),(20,-3.8),(20.5,-5),(21,-4.2),(21.5,-5.5),(22,-6),(22.5,-5.2),(23,-4.8),(23.67,-5.2)]
BLUE_5 = [(0,0.2),(0.5,-0.5),(1,0.5),(1.5,-0.2),(2,-1),(2.5,0),(3,-0.8),(3.5,-1.5),(4,-0.5),(4.5,-1.2),(5,-2),(5.5,-1),(6,-1.8),(6.5,-2.5),(7,-1.5),(7.5,-2.2),(8,-3),(8.5,-2),(9,-2.8),(9.5,-1),(10,-1.8),(10.5,-0.5),(11,2),(11.2,5),(11.5,4.5),(12,3.5),(12.5,5),(13,6.5),(13.5,8.5),(14,9.5),(14.5,10.5),(15,11.5),(15.5,12.5),(16,13.5),(16.5,13),(17,12.3),(17.5,12),(17.8,14.5),(18.2,14),(18.6,13.5),(19,12.8),(19.5,13.5),(20,14.5),(20.5,14),(21,13.5),(21.5,12.8),(22,12.5),(22.5,13.5),(23,14),(23.67,14)]
BLUE_6 = [(0,-0.3),(0.5,0.5),(1,-0.5),(1.5,0.3),(2,1.2),(2.5,0.5),(3,-0.3),(3.5,0.8),(4,0),(4.5,-0.8),(5,0.3),(5.5,-0.5),(6,-1.3),(6.5,-0.5),(7,-1.2),(7.5,-2),(8,-1),(8.5,-1.8),(9,-2.5),(9.5,-1.5),(10,-2.2),(10.5,-3),(11,-2),(11.5,-2.8),(12,-3.5),(12.5,-1),(12.7,1.5),(13,1),(13.5,0.2),(14,-0.5),(14.5,0.5),(15,-0.2),(15.5,-1),(16,-0.3),(16.5,-1),(17,1),(17.2,3.5),(17.5,3),(18,2.2),(18.5,3.2),(19,4),(19.5,6),(20,5.2),(20.5,4.5),(21,5.5),(21.5,4.8),(22,4),(22.5,3.2),(23,4.5),(23.67,4.3)]
BLUE_7 = [(0,0),(0.5,-0.8),(1,-1.5),(1.5,-0.8),(2,-2),(2.5,-2.8),(3,-2),(3.5,-3.2),(4,-3.8),(4.5,-3),(5,-4.2),(5.5,-5),(6,-4.2),(6.5,-5.5),(7,-6.2),(7.5,-5.5),(8,-6.8),(8.5,-7.5),(9,-7),(9.5,-8.2),(10,-9),(10.5,-8.5),(11,-9.8),(11.5,-10.5),(12,-10),(12.5,-11.2),(13,-12),(13.5,-11.5),(14,-12.8),(14.5,-7),(14.8,-5.5),(15,-6),(15.5,-6.8),(16,-7.5),(16.5,-7),(17,-8.2),(17.5,-9),(18,-8.5),(18.5,-9.8),(19,-10.5),(19.5,-10),(20,-11.2),(20.5,-12),(21,-11.5),(21.5,-12.8),(22,-13.5),(22.5,-13),(23,-12),(23.67,-12.5)]
BLUE_8 = [(0,-0.8),(0.5,-1.8),(1,-1.2),(1.5,-2.5),(2,-3.2),(2.5,-2.5),(3,-3.8),(3.5,-4.5),(4,-3.8),(4.5,-5),(5,-5.8),(5.5,-5),(6,-6.2),(6.5,-7),(7,-6.2),(7.5,-7.5),(8,-6.8),(8.5,-8),(9,-8.8),(9.5,-8),(10,-9.2),(10.5,-8.5),(11,-9.5),(11.5,-10.2),(12,-9.5),(12.4,-9.8),(12.55,5),(13,4.2),(13.5,3.5),(14,4.5),(14.5,3.8),(15,3),(15.5,2.2),(16,3),(16.5,2.2),(17,1.5),(17.5,2.5),(18,1.8),(18.5,1),(19,0.2),(19.5,1),(20,0.2),(20.5,-0.5),(21,0.5),(21.5,-0.3),(22,-1),(22.5,-0.2),(23,-1),(23.67,-1.5)]
BLUE_9 = [(0,0.5),(0.5,1.5),(1,2.5),(1.5,2),(2,3),(2.5,3.8),(3,3),(3.5,4.2),(4,5),(4.5,4.2),(5,5.5),(5.5,4.8),(6,4),(6.5,5.2),(7,4.5),(7.5,3.8),(8,4.8),(8.5,4),(9,3.2),(9.5,4.5),(10,3.8),(10.5,6.5),(10.8,9.5),(11,9),(11.5,8.2),(12,7.5),(12.5,8.5),(13,7.8),(13.5,7),(14,8),(14.5,7.2),(15,6.5),(15.5,9),(15.8,11.5),(16,11),(16.5,10.2),(17,11),(17.5,10.2),(18,9.5),(18.5,10.5),(19,9.8),(19.5,9),(20,8.2),(20.5,9.2),(21,8.5),(21.5,7.8),(22,8.8),(22.5,9.8),(23,10.5),(23.67,10)]
RED_4 = [(0,0),(0.5,0.8),(1,-0.2),(1.5,-1),(2,0.2),(2.5,-0.5),(3,-1.2),(3.5,-0.5),(4,-1.5),(4.5,-2.2),(5,-1.5),(5.5,-2.5),(6,-1.8),(6.5,-1),(7,0.5),(7.5,-0.3),(8,-1),(8.5,0),(9,1.5),(9.5,0.8),(10,2),(10.5,3.5),(11,3),(11.5,4.2),(12,5),(12.5,5.8),(13,6.2),(13.3,6.3),(13.4,11),(13.8,11.2),(14.2,10.8),(14.6,10),(15,9.5),(15.5,9),(16,8.5),(16.5,7.5),(17,6.8),(17.5,7.5),(18,6.5),(18.5,5.8),(19,5),(19.5,4.2),(20,5),(20.5,4.5),(21,3.5),(21.5,2.8),(22,3.5),(22.5,5),(22.8,9),(23,8.5),(23.67,8)]
RED_5 = [(0,2),(0.5,3),(1,2.2),(1.5,3.5),(2,2.8),(2.5,2),(3,1.2),(3.5,2),(4,1.2),(4.5,0.5),(5,-0.3),(5.5,0.5),(6,-0.5),(6.5,-1.2),(7,-2),(7.5,-1.2),(8,-2.5),(8.5,-3.2),(9,-4),(9.5,-3.2),(10,-4.5),(10.5,-5.2),(11,-4.5),(11.5,-5.8),(12,-6.5),(12.5,-5.8),(13,-7),(13.5,-7.8),(14,-7.2),(14.5,-8.5),(15,-9.2),(15.5,-8.5),(16,-9.8),(16.5,-10.5),(17,-10),(17.5,-11.2),(18,-11.8),(18.5,-11),(19,-12.2),(19.5,-13),(20,-12.5),(20.5,-13.8),(21,-14.5),(21.5,-15.2),(22,-14.5),(22.5,-15.5),(23,-16),(23.67,-15.5)]
RED_6 = [(0,-1),(0.5,-2),(1,-1.5),(1.5,-2.8),(2,-3.5),(2.5,-3),(3,-4.2),(3.5,-5),(4,-4.5),(4.5,-5.8),(5,-6.5),(5.5,-6),(6,-7.2),(6.5,-8),(7,-7.5),(7.5,-8.8),(8,-9.5),(8.2,-4),(8.5,-4.5),(9,-5.5),(9.5,-5),(10,-6.2),(10.5,-7),(11,-6.5),(11.5,-7.8),(12,-8.5),(12.5,-8),(13,-9.2),(13.5,-10),(14,-9.5),(14.5,-10.8),(15,-11.5),(15.5,-11),(16,-12.2),(16.3,-8),(16.5,-7),(17,-7.5),(17.5,-8.5),(18,-8),(18.5,-9.2),(19,-10),(19.5,-9.5),(20,-10.8),(20.5,-8),(21,-7.2),(21.5,-6.5),(22,-7.5),(22.5,-6.8),(23,-6),(23.67,-6.3)]
RED_7 = [(0,0),(0.5,-0.8),(1,0.2),(1.5,-0.6),(2,-1.5),(2.5,-0.8),(3,-1.8),(3.5,-2.5),(4,-1.5),(4.5,-2.3),(5,-3),(5.5,-2.2),(6,-3.2),(6.5,-4),(7,-3.2),(7.5,-4.2),(8,-3.5),(8.5,-4.2),(9,-2.5),(9.2,3),(9.5,2.8),(10,2.2),(10.5,3),(11,1.8),(11.3,6),(11.6,5.8),(12,5.2),(12.5,4.5),(13,5.2),(13.5,4.2),(14,3.5),(14.3,8),(14.6,7.8),(15,7.2),(15.5,7.8),(16,6.5),(16.5,5.8),(17,6.5),(17.5,5.5),(18,4.8),(18.5,5.5),(19,4.2),(19.2,8.5),(19.5,12),(20,11),(20.5,11.5),(21,10.2),(21.5,9.5),(22,10),(22.5,9),(23,8.2),(23.2,12.5),(23.67,12)]
RED_8 = [(0,-0.8),(0.5,-2),(1,-3),(1.5,-4),(2,-5),(2.5,-4.5),(3,-5.8),(3.5,-6.8),(4,-7.5),(4.5,-7),(5,-8.2),(5.5,-9),(6,-10),(6.5,-9.5),(7,-10.8),(7.5,-11.5),(8,-11),(8.5,-12.2),(9,-13),(9.5,-12.5),(9.8,-9),(10,-9.5),(10.5,-10.2),(11,-11),(11.5,-10.5),(12,-11.8),(12.5,-12.5),(13,-13.2),(13.5,-12.5),(14,-13.8),(14.5,-14.5),(15,-14),(15.5,-15.2),(16,-16),(16.5,-15.5),(17,-16.8),(17.5,-17.5),(18,-17),(18.5,-18.2),(19,-17.5),(19.5,-16.8),(20,-17.8),(20.5,-18.5),(21,-18),(21.5,-19),(22,-18.5),(22.5,-19.2),(23,-18.5),(23.67,-18.8)]
DARKRED_2 = [(0,0.2),(0.5,-0.8),(1,-1.5),(1.5,-0.8),(2,-2),(2.5,-2.8),(3,-2),(3.5,-3.2),(4,-2.5),(4.5,-1.8),(5,-3),(5.5,-3.8),(6,-3),(6.5,-4.2),(7,-5),(7.5,-4.2),(8,-5.5),(8.5,-6),(9,-5.2),(9.5,-6.5),(10,-7.2),(10.5,-6.5),(11,-7.8),(11.5,-8.5),(12,-8),(12.5,-9),(12.7,-4),(13,-4.5),(13.5,-5.2),(14,-6),(14.5,-5.5),(15,-6.8),(15.5,-7.5),(16,-7),(16.5,-8.2),(17,-9),(17.5,-8.5),(18,-9.8),(18.5,-10.5),(19,-10),(19.5,-11.2),(20,-12),(20.5,-11.5),(21,-12.8),(21.5,-13.5),(22,-13),(22.5,-14.2),(23,-13.5),(23.67,-14)]
DARKRED_3 = [(0,0.5),(0.5,1.5),(1,2.5),(1.5,3.5),(1.7,5),(1.8,8.4),(2,9),(2.5,8.5),(3,8),(3.5,7.5),(4,6.8),(4.5,6),(5,5.5),(5.5,6.5),(6,5.8),(6.5,5),(7,4.2),(7.5,3.5),(8,2.8),(8.5,3.5),(9,2.8),(9.5,2),(10,1.2),(10.5,0.5),(11,-0.3),(11.5,0.8),(12,0),(12.5,-0.8),(13,-1.5),(13.5,-0.8),(14,-2),(14.5,-1.2),(15,-0.5),(15.5,-1.5),(16,-2.2),(16.5,-1.5),(17,-2.8),(17.5,-3.5),(18,-2.8),(18.5,-1.5),(19,-2.2),(19.5,-3),(20,-3.8),(20.5,-3),(21,-4.2),(21.5,-5),(22,-4.5),(22.5,-5.8),(23,-5),(23.67,-5.5)]
DARKRED_4 = [(0,-0.3),(0.5,-1.2),(1,-2),(1.5,-1.5),(2,-2.8),(2.5,-3.5),(3,-4.2),(3.5,-3.5),(4,-4.8),(4.5,-5.5),(5,-5),(5.5,-6.2),(6,-7),(6.5,-6.5),(7,-7.8),(7.5,-8.5),(8,-8),(8.5,-9.2),(9,-10),(9.5,-9.5),(10,-10.8),(10.5,-11.5),(11,-11),(11.5,-12.2),(12,-13),(12.5,-12.5),(13,-13.8),(13.5,-14.5),(14,-14),(14.5,-11),(14.7,-9.5),(15,-10),(15.5,-10.8),(16,-11.5),(16.5,-11),(17,-12.2),(17.5,-13),(18,-12.5),(18.5,-13.8),(19,-14.5),(19.5,-15.2),(20,-14.5),(20.5,-15.8),(21,-16.5),(21.5,-16),(22,-17.2),(22.5,-16.5),(23,-17.5),(23.67,-18.5)]

SERIES = [
    (GREEN_1, GREEN), (GREEN_2, GREEN), (GREEN_3, GREEN), (GREEN_4, GREEN), (GREEN_5, GREEN), (GREEN_6, GREEN), (GREEN_7, GREEN),
    (CYAN_1, CYAN), (CYAN_2, CYAN), (CYAN_3, CYAN), (CYAN_4, CYAN), (CYAN_5, CYAN), (CYAN_6, CYAN), (CYAN_7, CYAN),
    (YELLOW_2, YELLOW), (YELLOW_3, YELLOW), (YELLOW_4, YELLOW), (YELLOW_5, YELLOW), (YELLOW_TOP, YELLOW),
    (SLATE_2, SLATE), (SLATE_3, SLATE), (SLATE_4, SLATE), (SLATE_5, SLATE), (SLATE_6, SLATE), (SLATE_7, SLATE), (SLATE_TOP, SLATE),
    (MAGENTA_1, MAGENTA), (MAGENTA_2, MAGENTA), (MAGENTA_3, MAGENTA), (MAGENTA_4, MAGENTA), (MAGENTA_LOW, MAGENTA),
    (DARKRED_2, DARKRED), (DARKRED_3, DARKRED), (DARKRED_4, DARKRED), (DARKRED_TOP, DARKRED),
    (BLACK_2, BLACK), (BLACK_3, BLACK), (BLACK_4, BLACK), (BLACK_5, BLACK), (BLACK_TOP, BLACK),
    (BLUE_PEAK, BLUE), (BLUE_5, BLUE), (BLUE_6, BLUE), (BLUE_7, BLUE), (BLUE_8, BLUE), (BLUE_9, BLUE),
    (BLUE_LOW, BLUE), (BLUE_JUMP, BLUE), (BLUE_TOP, BLUE),
    (RED_4, RED), (RED_5, RED), (RED_6, RED), (RED_7, RED), (RED_8, RED), (RED_MID_LOW, RED), (RED_UP, RED), (RED_LOW, RED),
    (MAGENTA_ZERO, MAGENTA),
]

FONT = "Liberation Mono"
FIG_W, FIG_H = 632, 472   # page body keeps an 8px margin inside the 640x480 window

fig = go.Figure()
for pts, col in SERIES:
    fig.add_trace(go.Scatter(
        x=[p[0] for p in pts], y=[p[1] for p in pts], mode="lines",
        line=dict(color=col, width=1), showlegend=False, hoverinfo="skip"))

axis_common = dict(showline=True, linecolor="black", linewidth=1, mirror="ticks",
                   ticks="inside", ticklen=6, tickcolor="black", tickwidth=1,
                   showgrid=False, zeroline=False, automargin=False,
                   tickfont=dict(family=FONT, size=11.5, color="black"))

fig.update_layout(
    width=FIG_W, height=FIG_H,
    margin=dict(l=44, r=19, t=24, b=34, pad=0),
    paper_bgcolor="white", plot_bgcolor="white",
    font=dict(family=FONT, size=11.5, color="black"),
    title=dict(text=TITLE, x=0.519, xanchor="center", y=1 - 7 / FIG_H, yanchor="middle",
               font=dict(family=FONT, size=11.5, color="black")),
    xaxis=dict(range=[0, 23.67], tickvals=X_TICKS, ticktext=[str(v) for v in X_TICKS],
               title=dict(text=X_TITLE, standoff=6, font=dict(family=FONT, size=11.5)),
               ticklabelstandoff=0, **axis_common),
    yaxis=dict(range=[-40, 40], tickvals=Y_TICKS, ticktext=[str(v) for v in Y_TICKS],
               title=dict(text=Y_TITLE, standoff=4, font=dict(family=FONT, size=11.5)),
               ticklabelstandoff=8, **axis_common),
)

fig.write_html("out.html")
